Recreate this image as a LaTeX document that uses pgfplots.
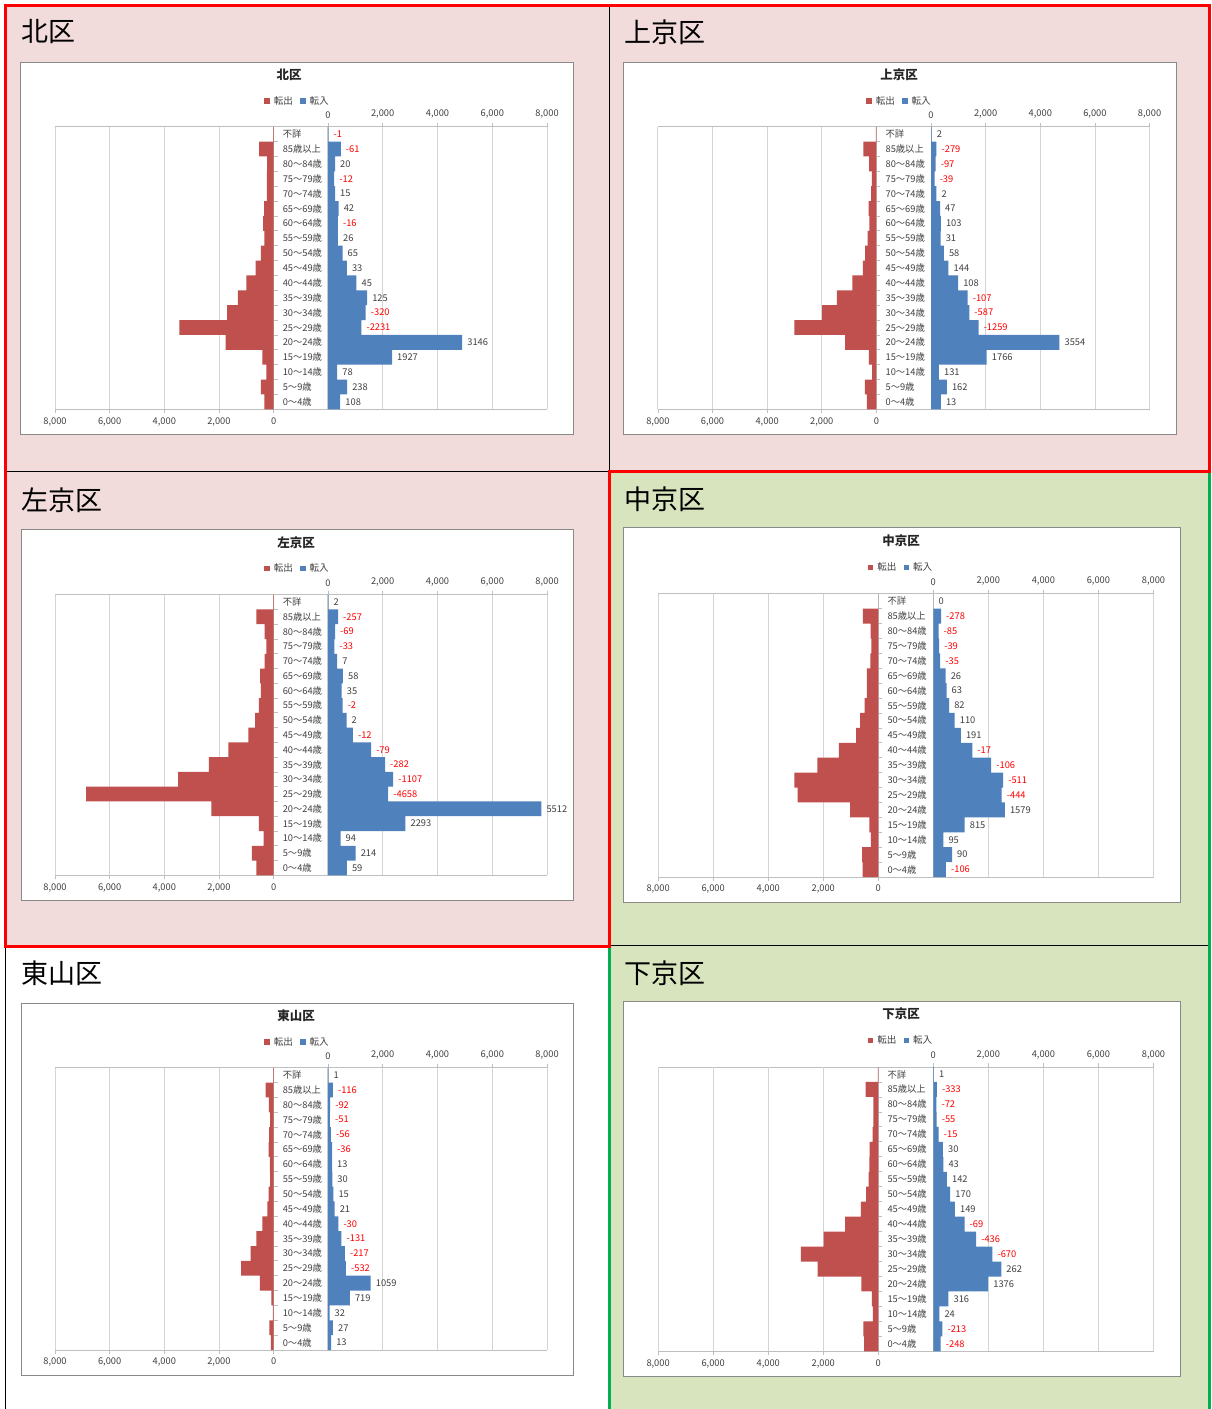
\documentclass[border=0pt]{standalone}
\usepackage{pgfplots}
\usepackage{pgfplotstable}
\pgfplotsset{compat=1.18}
\usepackage{fontspec}
\setmainfont{Noto Sans CJK JP}

\definecolor{bgpink}{HTML}{F2DCDB}
\definecolor{bggreen}{HTML}{D7E4BD}
\definecolor{barred}{HTML}{C0504D}
\definecolor{barblue}{HTML}{4F81BD}
\definecolor{netred}{HTML}{FF0000}
\definecolor{labgray}{HTML}{404040}
\definecolor{gridgray}{HTML}{D4D4D4}
\definecolor{axisgray}{HTML}{BFBFBF}
\definecolor{boxgray}{HTML}{898989}
\definecolor{frameRed}{HTML}{FF0000}
\definecolor{frameGreen}{HTML}{00B050}

% pos: 0 = 0~4歳 ... 17 = 85歳以上, 18 = 不詳; in = 転入, out = 転出, net = 転入-転出
\pgfplotstableread{
pos in out net
18 20 21 -1
17 470 531 -61
16 260 240 20
15 230 242 -12
14 260 245 15
13 390 348 42
12 365 381 -16
11 365 339 26
10 534 469 65
9 690 657 33
8 1040 995 45
7 1430 1305 125
6 1380 1700 -320
5 1220 3451 -2231
4 4900 1754 3146
3 2340 413 1927
2 340 262 78
1 700 462 238
0 450 342 108
}\kita

\pgfplotstableread{
pos in out net
18 20 18 2
17 200 479 -279
16 170 267 -97
15 130 169 -39
14 200 198 2
13 330 283 47
12 360 257 103
11 350 319 31
10 470 412 58
9 640 496 144
8 990 882 108
7 1340 1447 -107
6 1400 1987 -587
5 1740 2999 -1259
4 4700 1146 3554
3 2040 274 1766
2 290 159 131
1 580 418 162
0 360 347 13
}\kamigyo

\pgfplotstableread{
pos in out net
18 20 18 2
17 370 627 -257
16 260 329 -69
15 235 268 -33
14 340 333 7
13 550 492 58
12 505 470 35
11 535 537 -2
10 680 678 2
9 910 922 -12
8 1575 1654 -79
7 2085 2367 -282
6 2385 3492 -1107
5 2200 6858 -4658
4 7790 2278 5512
3 2830 537 2293
2 460 366 94
1 1010 796 214
0 690 631 59
}\sakyo

\pgfplotstableread{
pos in out net
18 0 0 0
17 280 558 -278
16 190 275 -85
15 210 249 -39
14 250 285 -35
13 445 419 26
12 480 417 63
11 575 493 82
10 775 665 110
9 1000 809 191
8 1415 1432 -17
7 2105 2211 -106
6 2535 3046 -511
5 2485 2929 -444
4 2600 1021 1579
3 1140 325 815
2 365 270 95
1 680 590 90
0 460 566 -106
}\nakagyo

\pgfplotstableread{
pos in out net
18 20 19 1
17 180 296 -116
16 80 172 -92
15 75 126 -51
14 110 166 -56
13 150 186 -36
12 150 137 13
11 160 130 30
10 200 185 15
9 245 224 21
8 380 410 -30
7 495 626 -131
6 620 837 -217
5 660 1192 -532
4 1560 501 1059
3 800 81 719
2 60 28 32
1 185 158 27
0 115 102 13
}\higashiyama

\pgfplotstableread{
pos in out net
18 20 19 1
17 130 463 -333
16 110 182 -72
15 120 175 -55
14 195 210 -15
13 350 320 30
12 365 322 43
11 495 353 142
10 615 445 170
9 785 636 149
8 1135 1204 -69
7 1555 1991 -436
6 2145 2815 -670
5 2470 2208 262
4 1995 619 1376
3 550 234 316
2 220 196 24
1 330 543 -213
0 270 518 -248
}\shimogyo

% net label: red when negative
\def\netlab#1#2\relax{\ifx-#1\textcolor{netred}{#1#2}\else\textcolor{labgray}{#1#2}\fi}

\pgfplotsset{
  pyr common/.style={
    scale only axis, clip=false,
    ymin=-0.5, ymax=18.5,
    xmajorgrids, grid style={gridgray, line width=0.9pt},
    axis line style={axisgray, line width=0.8pt},
    tick style={axisgray, line width=0.8pt},
    tick align=outside, major tick length=4pt,
    ticklabel style={font=\fontsize{9.3}{10}\selectfont, text=labgray},
    xticklabel style={inner sep=4pt},
  },
  pyr right/.style={
    pyr common, anchor=north west,
    xmin=0, xmax=8000,
    axis x line*=top, axis y line*=left,
    xtick={0,2000,4000,6000,8000},
    xticklabels={0,{2,000},{4,000},{6,000},{8,000}},
    ytick=\empty,
  },
  pyr left/.style={
    pyr common, anchor=north east,
    xmin=-8000, xmax=0,
    axis x line*=bottom, axis y line*=right,
    xtick={-8000,-6000,-4000,-2000,0},
    xticklabels={{8,000},{6,000},{4,000},{2,000},0},
    ytick={-0.5,0.5,...,18.5}, yticklabels={},
    extra y ticks={0,1,...,18},
    extra y tick labels={0～4歳,5～9歳,10～14歳,15～19歳,20～24歳,25～29歳,30～34歳,35～39歳,40～44歳,45～49歳,50～54歳,55～59歳,60～64歳,65～69歳,70～74歳,75～79歳,80～84歳,85歳以上,不詳},
    extra y tick style={major tick length=0pt, tick style={draw=none},
      yticklabel style={anchor=west, inner sep=0pt, xshift=9pt, text=labgray}},
  },
}

% one district: white chart box, title, legend, 転入 bars (right) and 転出 bars (left)
\newcommand{\panel}[1]{%
  \pgfmathsetmacro\pw{\RE-\RZ}%
  \pgfmathsetmacro\lw{\LZ-\LE}%
  \pgfmathsetmacro\ph{\Bt-\Tp}%
  \draw[boxgray, line width=0.8pt, fill=white] (\Xa pt,-\Ya pt) rectangle (\Xb pt,-\Yb pt);
  \node[font=\fontsize{12.5}{14}\selectfont\bfseries, text=black!85] at (\Tx pt,-\Ty pt) {\Title};
  \node[font=\fontsize{9.6}{10}\selectfont, text=labgray] at (\Gx pt,-\Gy pt)
    {\textcolor{barred}{\rule[0.5pt]{5.5pt}{5.5pt}}\hspace{4pt}転出\hspace{7pt}\textcolor{barblue}{\rule[0.5pt]{5.5pt}{5.5pt}}\hspace{4pt}転入};
  \draw[axisgray, line width=0.8pt] (\LE pt,-\Tp pt) -- (\RE pt,-\Tp pt) (\LE pt,-\Bt pt) -- (\RE pt,-\Bt pt);
  \begin{axis}[pyr right, at={(\RZ pt,-\Tp pt)}, width=\pw pt, height=\ph pt]
    \addplot[xbar, bar width=1, fill=barblue, draw=none,
      point meta=explicit symbolic,
      nodes near coords={\edef\tmp{\pgfplotspointmeta}\expandafter\netlab\tmp\relax},
      nodes near coords style={anchor=west, inner sep=0pt, xshift=5pt, font=\fontsize{9.3}{10}\selectfont}]
      table[x=in, y=pos, meta=net] {#1};
  \end{axis}
  \begin{axis}[pyr left, at={(\LZ pt,-\Tp pt)}, width=\lw pt, height=\ph pt]
    \addplot[xbar, bar width=1, fill=barred, draw=none]
      table[x expr=-\thisrow{out}, y=pos] {#1};
  \end{axis}
}

\begin{document}
\begin{tikzpicture}
\useasboundingbox[fill=white] (0pt,0pt) rectangle (1211pt,-1409pt);

% cell backgrounds
\fill[bgpink] (5pt,-5pt) rectangle (609pt,-472pt);
\fill[bgpink] (609pt,-5pt) rectangle (1211pt,-472pt);
\fill[bgpink] (5pt,-472pt) rectangle (609pt,-946pt);
\fill[bggreen] (609pt,-472pt) rectangle (1211pt,-946pt);
\fill[bggreen] (609pt,-946pt) rectangle (1211pt,-1409pt);

% district headings
\node[anchor=west, inner sep=0pt, font=\fontsize{27}{30}\selectfont] at (21pt,-32pt) {北区};
\node[anchor=west, inner sep=0pt, font=\fontsize{27}{30}\selectfont] at (624pt,-32pt) {上京区};
\node[anchor=west, inner sep=0pt, font=\fontsize{27}{30}\selectfont] at (21pt,-500pt) {左京区};
\node[anchor=west, inner sep=0pt, font=\fontsize{27}{30}\selectfont] at (624pt,-499pt) {中京区};
\node[anchor=west, inner sep=0pt, font=\fontsize{27}{30}\selectfont] at (21pt,-973pt) {東山区};
\node[anchor=west, inner sep=0pt, font=\fontsize{27}{30}\selectfont] at (624pt,-973pt) {下京区};

% 北区
\def\Xa{20}\def\Ya{62}\def\Xb{573}\def\Yb{434}
\def\LE{55}\def\LZ{273.6}\def\RZ{327.9}\def\RE{547.1}\def\Tp{126.7}\def\Bt{409.3}
\def\Tx{289}\def\Ty{75}\def\Gx{296.5}\def\Gy{100.7}\def\Title{北区}
\panel{\kita}

% 上京区
\def\Xa{623}\def\Ya{62}\def\Xb{1176}\def\Yb{434}
\def\LE{657.9}\def\LZ{876.4}\def\RZ{931}\def\RE{1149.6}\def\Tp{126.7}\def\Bt{409.3}
\def\Tx{899}\def\Ty{75}\def\Gx{898.5}\def\Gy{100.7}\def\Title{上京区}
\panel{\kamigyo}

% 左京区
\def\Xa{21}\def\Ya{529}\def\Xb{573}\def\Yb{900}
\def\LE{55}\def\LZ{273.6}\def\RZ{327.9}\def\RE{547.1}\def\Tp{594.7}\def\Bt{875.3}
\def\Tx{296}\def\Ty{543}\def\Gx{296.5}\def\Gy{568.3}\def\Title{左京区}
\panel{\sakyo}

% 中京区
\def\Xa{623}\def\Ya{527}\def\Xb{1180}\def\Yb{902}
\def\LE{658.1}\def\LZ{878.3}\def\RZ{933.3}\def\RE{1153.5}\def\Tp{593.7}\def\Bt{877}
\def\Tx{901}\def\Ty{541}\def\Gx{900}\def\Gy{567}\def\Title{中京区}
\panel{\nakagyo}

% 東山区
\def\Xa{21}\def\Ya{1003}\def\Xb{573}\def\Yb{1375}
\def\LE{55}\def\LZ{273.6}\def\RZ{327.9}\def\RE{547.1}\def\Tp{1067.7}\def\Bt{1350}
\def\Tx{296}\def\Ty{1016}\def\Gx{296.5}\def\Gy{1041.7}\def\Title{東山区}
\panel{\higashiyama}

% 下京区
\def\Xa{623}\def\Ya{1001}\def\Xb{1180}\def\Yb{1376}
\def\LE{658.1}\def\LZ{878.3}\def\RZ{933.3}\def\RE{1153.5}\def\Tp{1067}\def\Bt{1351.3}
\def\Tx{901}\def\Ty{1014}\def\Gx{900}\def\Gy{1040.3}\def\Title{下京区}
\panel{\shimogyo}

% cell borders
\draw[black, line width=1pt] (609pt,-5pt) -- (609pt,-472pt);
\draw[black, line width=1pt] (5pt,-471.7pt) -- (609pt,-471.7pt);
\draw[black, line width=1pt] (609pt,-945.5pt) -- (1211pt,-945.5pt);
\draw[black, line width=1pt] (5.5pt,-946pt) -- (5.5pt,-1409pt);
\draw[frameGreen, line width=3pt] (609.2pt,-946pt) -- (609.2pt,-1409pt);
\draw[frameGreen, line width=3pt] (1209.5pt,-472pt) -- (1209.5pt,-1409pt);
\draw[frameRed, line width=3pt, line join=miter]
  (5.5pt,-5.5pt) -- (1209.5pt,-5.5pt) -- (1209.5pt,-471.7pt) -- (609.2pt,-471.7pt)
  -- (609.2pt,-946.5pt) -- (5.5pt,-946.5pt) -- cycle;
\end{tikzpicture}
\end{document}
